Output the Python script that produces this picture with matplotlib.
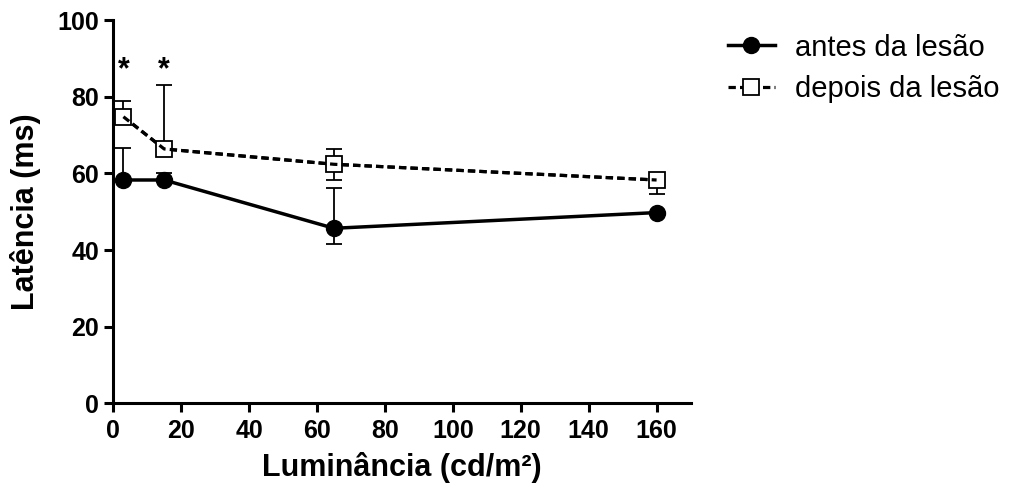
import matplotlib
matplotlib.use("Agg")
import matplotlib.pyplot as plt
import numpy as np

plt.rcParams['font.family'] = ['Liberation Sans', 'DejaVu Sans']

luminance = [3, 15, 65, 160]
antes = [58.3, 58.3, 45.7, 49.8]
antes_err_low = [0, 0, 4.1, 0]
antes_err_up = [8.3, 1.9, 10.5, 0]
depois = [74.8, 66.4, 62.4, 58.3]
depois_err_low = [0, 0, 4.1, 3.7]
depois_err_up = [4.1, 16.8, 4.0, 0]
star_x = [3, 15]
star_y = [87, 87]
xticks = [0, 20, 40, 60, 80, 100, 120, 140, 160]
yticks = [0, 20, 40, 60, 80, 100]

fig = plt.figure(figsize=(10.2, 4.92), dpi=100)
ax = fig.add_axes([0.111, 0.180, 0.566, 0.779])

x = np.array(luminance)
ekw = dict(fmt='none', ecolor='black', elinewidth=1.3, capsize=6, capthick=1.3, zorder=2)
ax.errorbar(x, antes, yerr=[antes_err_low, antes_err_up], **ekw)
ax.errorbar(x, depois, yerr=[depois_err_low, depois_err_up], **ekw)

dash = (0, (2.3, 1.3))
ax.plot(x, antes, '-', color='black', lw=2.5, marker='o', markersize=11.5,
        markerfacecolor='black', markeredgecolor='black', label='antes da lesão', zorder=4)
ax.plot(x, depois, linestyle=dash, color='black', lw=2.3, marker='s', markersize=11,
        markerfacecolor='white', markeredgecolor='black', markeredgewidth=1.3,
        label='depois da lesão', zorder=3)
# dashed line visible through the square marker
ax.plot(x, depois, linestyle=dash, color='black', lw=2.3, zorder=3.5)

for sx, sy in zip(star_x, star_y):
    ax.text(sx, sy, '*', ha='center', va='center', fontsize=22, fontweight='bold')

ax.set_xlim(0, 170)
ax.set_ylim(0, 100)
ax.set_xticks(xticks)
ax.set_yticks(yticks)
for s in ['top', 'right']:
    ax.spines[s].set_visible(False)
for s in ['left', 'bottom']:
    ax.spines[s].set_linewidth(2.2)
ax.tick_params(direction='out', length=6.5, width=2.2, labelsize=18)
ax.tick_params(axis='x', pad=5)
for lab in ax.get_xticklabels() + ax.get_yticklabels():
    lab.set_fontweight('bold')
ax.set_xlabel('Luminância (cd/m²)', fontsize=22, fontweight='bold', labelpad=6)
ax.set_ylabel('Latência (ms)', fontsize=22, fontweight='bold', labelpad=12)

fig.legend(loc='upper left', bbox_to_anchor=(0.688, 0.985), frameon=False,
           fontsize=21, handlelength=1.6, handletextpad=0.7, labelspacing=0.45,
           markerscale=1.0)

fig.savefig('out.png', dpi=100)
